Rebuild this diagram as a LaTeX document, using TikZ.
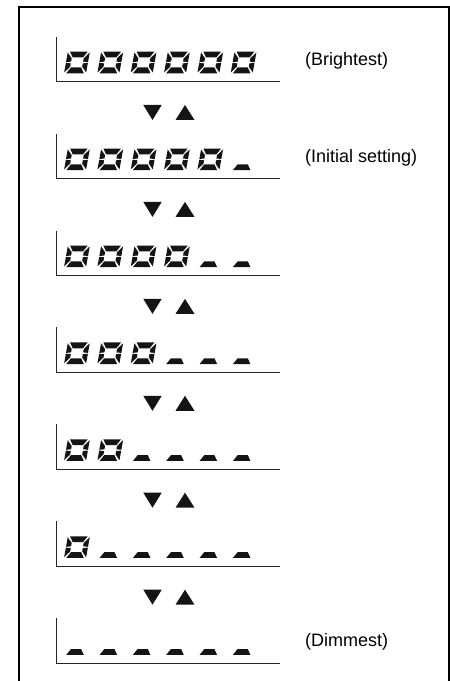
\documentclass[tikz,border=0pt]{standalone}
\usepackage{fontspec}
\setmainfont{Liberation Sans}
\tikzset{
  seg/.style={fill=black!92},
  rowline/.style={line width=1.3pt, draw=black!85},
  framebox/.style={line width=2pt, draw=black},
  lbl/.style={anchor=base west, inner sep=0pt, font=\fontsize{18}{21}\selectfont},
  tri/.style={fill=black!92},
  pics/segdash/.style={code={
    \begin{scope}[xslant=0.18]
      \fill[seg] (2.2,0)--(19.8,0)--(16.1,5.8)--(5.9,5.8)--cycle;
    \end{scope}}},
  pics/segzero/.style={code={
    \begin{scope}[xslant=0.18]
      \fill[seg] (2.2,0)--(19.8,0)--(16.1,5.8)--(5.9,5.8)--cycle;
      \fill[seg] (2.2,21.6)--(19.8,21.6)--(16.1,15.8)--(5.9,15.8)--cycle;
      \fill[seg] (0,0.8)--(5.0,6.6)--(5.0,9.9)--(0,10.4)--cycle;
      \fill[seg] (0,11.2)--(5.0,11.7)--(5.0,15.0)--(0,20.8)--cycle;
      \fill[seg] (22,0.8)--(17.0,6.6)--(17.0,9.9)--(22,10.4)--cycle;
      \fill[seg] (22,11.2)--(17.0,11.7)--(17.0,15.0)--(22,20.8)--cycle;
    \end{scope}}}
}
\begin{document}
\begin{tikzpicture}[x=1pt,y=1pt]
\useasboundingbox (0,0) rectangle (450,681);
\draw[framebox] (19,-2) -- (19,674) -- (449,674) -- (449,-2);
\foreach \k/\Y in {0/599.3,1/502.4,2/405.4,3/308.5,4/211.6,5/114.6,6/17.7}{
  \coordinate (bar\k) at (56.7,\Y+45);
  \coordinate (base\k) at (56.7,\Y);
  \coordinate (end\k) at (280,\Y);
  \draw[rowline] (bar\k) -- (base\k) -- (end\k);
  \foreach \j in {0,...,5}{
    \ifnum\j<\numexpr6-\k\relax
      \pic at (64+33.33*\j,\Y+8.4) {segzero};
    \else
      \pic at (64+33.33*\j,\Y+8.4) {segdash};
    \fi
  }
  \ifnum\k<6
    \fill[tri] (143.3,\Y-23.3) -- (161.7,\Y-23.3) -- (152.5,\Y-38.3) -- cycle;
    \fill[tri] (175.5,\Y-38.3) -- (194.5,\Y-38.3) -- (185,\Y-23.3) -- cycle;
  \fi
}
\node[lbl] (bright) at (305,599.3+16.5) {(Brightest)};
\node[lbl] (initial) at (305,502.4+16.5) {(Initial setting)};
\node[lbl] (dim) at (305,17.7+16.5) {(Dimmest)};
\end{tikzpicture}
\end{document}
